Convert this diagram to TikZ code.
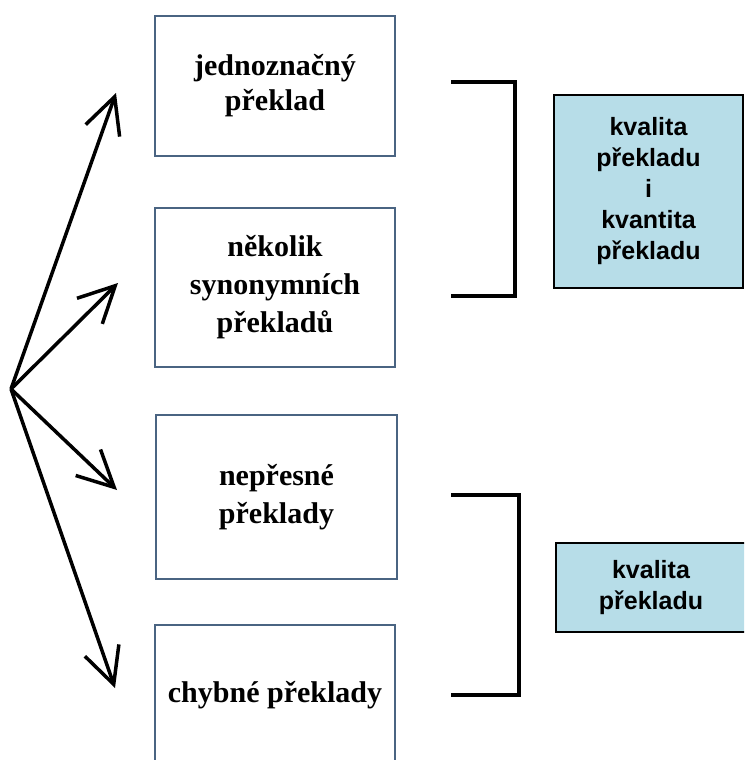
\documentclass[tikz,border=0pt]{standalone}
\usepackage{fontspec}
\setmainfont{Liberation Serif}
\newfontfamily\arialfont{Liberation Sans}
\usetikzlibrary{arrows.meta}
\definecolor{boxedge}{HTML}{4A6482}
\definecolor{lightblue}{HTML}{B7DDE8}
\begin{document}
\begin{tikzpicture}[x=1pt,y=-1pt,
  leftbox/.style={draw=boxedge, line width=2.2pt, fill=white, minimum width=240pt, inner sep=0pt,
    font=\bfseries\fontsize{30}{34}\selectfont, align=center},
  rightbox/.style={draw=black, line width=1.5pt, fill=lightblue, inner sep=0pt,
    font=\arialfont\bfseries\fontsize{25}{31}\selectfont, align=center},
  arr/.style={line width=3.5pt, -{Straight Barb[length=36pt,width=36pt,line width=3.5pt]}},
  bracketline/.style={line width=3.5pt, line join=miter}]
\useasboundingbox (0,0) rectangle (744,760);
\clip (0,0) rectangle (744,760);
% left boxes
\node[leftbox, minimum height=140pt] (b1) at (275,86) {jednoznačný\\[1pt]překlad};
\node[leftbox, minimum height=159pt] (b2) at (275,287.5) {několik\\[4pt]synonymních\\[4pt]překladů};
\node[leftbox, minimum height=164pt, minimum width=241pt] (b3) at (276.5,497) {nepřesné\\[4pt]překlady};
\node[leftbox, minimum height=140pt] (b4) at (275,695) {\raisebox{-3pt}{chybné překlady}};
% right boxes
\node[rightbox, minimum width=189pt, minimum height=193pt] (r1) at (648.5,191.5) {kvalita\\překladu\\i\\kvantita\\překladu};
\node[rightbox, minimum width=190pt, minimum height=89pt] (r2) at (651,587.5) {kvalita\\překladu};
% arrows
\coordinate (o) at (11,389);
\coordinate (t1) at (116,93);
\coordinate (t2) at (118,283);
\coordinate (t3) at (117,490);
\coordinate (t4) at (115,688);
\draw[arr] (o) -- (t1);
\draw[arr] (o) -- (t2);
\draw[arr] (o) -- (t3);
\draw[arr] (o) -- (t4);
% brackets
\coordinate (k1a) at (451,82);
\coordinate (k1b) at (451,296);
\coordinate (k1x) at (515,0);
\draw[bracketline] (k1a) -- (k1a -| k1x) -- (k1b -| k1x) -- (k1b);
\coordinate (k2a) at (451,495);
\coordinate (k2b) at (451,695);
\coordinate (k2x) at (519,0);
\draw[bracketline] (k2a) -- (k2a -| k2x) -- (k2b -| k2x) -- (k2b);
\end{tikzpicture}
\end{document}
